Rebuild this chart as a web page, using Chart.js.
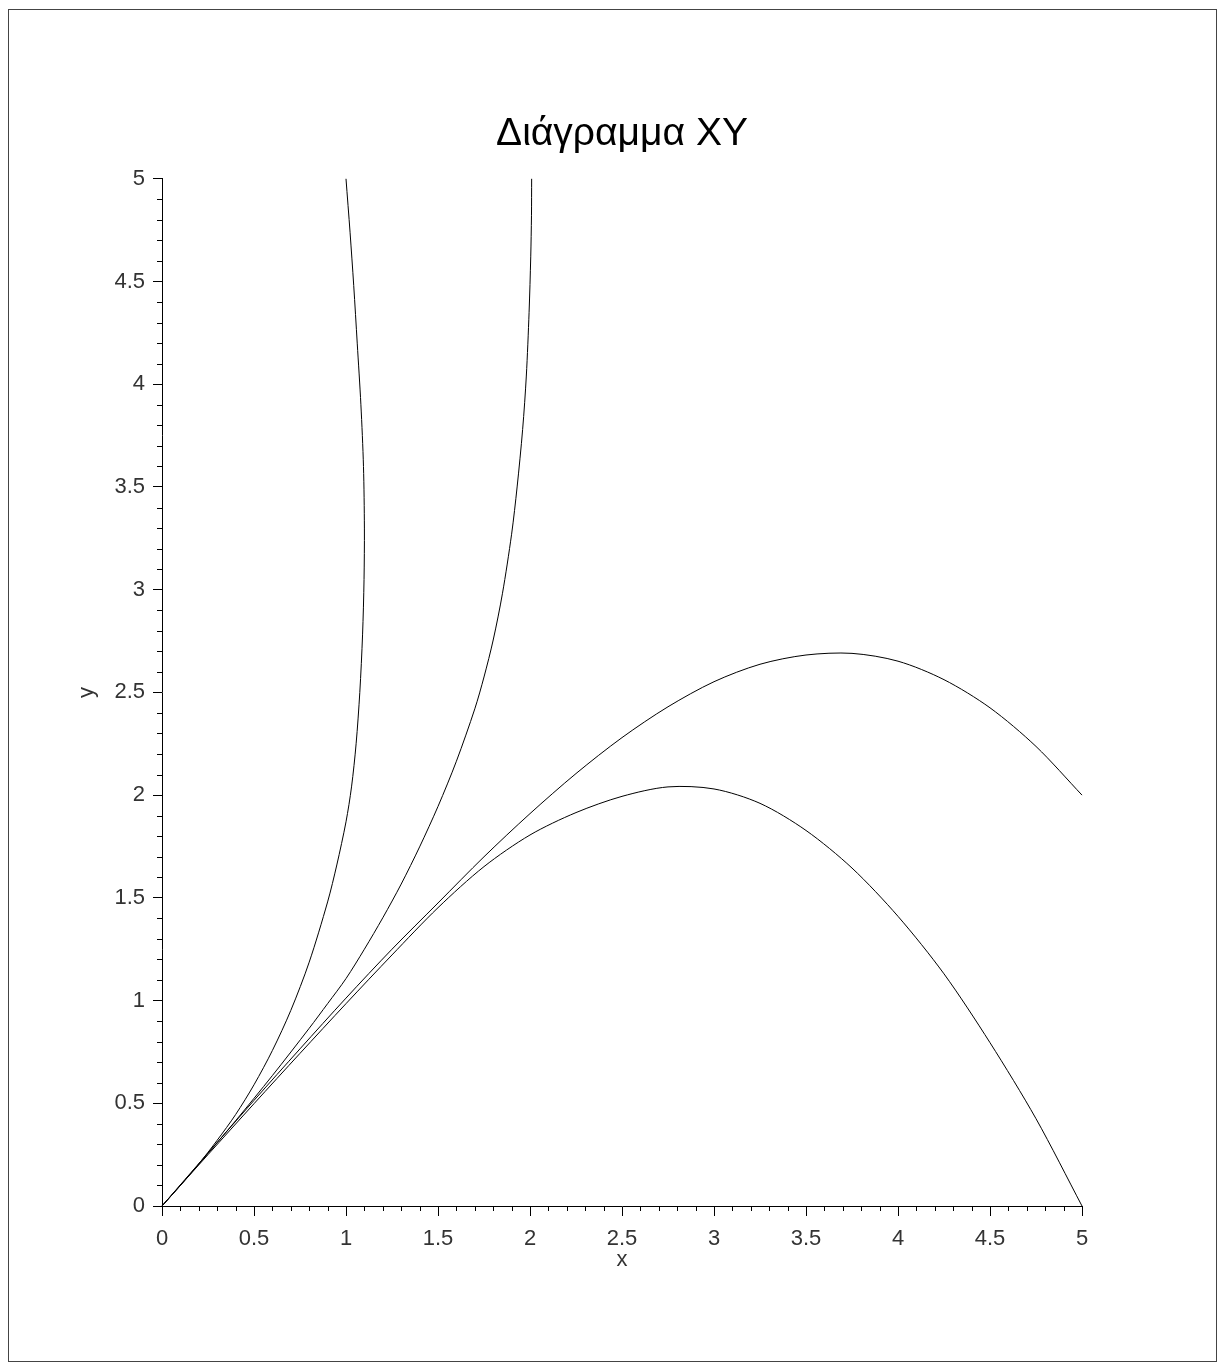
<!DOCTYPE html>
<html>
<head>
<meta charset="utf-8">
<title>Διάγραμμα XY</title>
<script src="https://cdn.jsdelivr.net/npm/chart.js@4.4.1/dist/chart.umd.min.js"></script>
<style>
  html, body { margin: 0; padding: 0; background: #fff; }
  #wrap { position: relative; width: 1226px; height: 1371px; }
  #frame {
    position: absolute; left: 8px; top: 9px; width: 1209px; height: 1353px;
    border: 1px solid #444; box-sizing: border-box;
  }
  #plot { position: absolute; left: 0; top: 0; }
</style>
</head>
<body>
<div id="wrap">
  <div id="frame"></div>
  <canvas id="plot" width="1226" height="1371"></canvas>
</div>
<script>
// curve values
const curve1X = [0, 0.1, 0.2, 0.3, 0.4, 0.5, 0.6, 0.7, 0.8, 0.9, 0.95, 1.0, 1.03, 1.055, 1.075, 1.09, 1.098, 1.1, 1.095, 1.081, 1.061, 1.042, 1.022, 1.0];
const curve1Y = [0, 0.1, 0.205, 0.32, 0.445, 0.59, 0.757, 0.952, 1.187, 1.48, 1.66, 1.87, 2.04, 2.25, 2.5, 2.78, 3.05, 3.3, 3.6, 3.9, 4.2, 4.48, 4.74, 5.0];

const curve2X = [0, 0.2, 0.4, 0.6, 0.8, 0.9, 1.0, 1.1, 1.2, 1.3, 1.4, 1.5, 1.6, 1.7, 1.75, 1.8, 1.85, 1.9, 1.93, 1.96, 1.98, 1.995, 2.004, 2.008, 2.009];
const curve2Y = [0, 0.204, 0.415, 0.635, 0.865, 0.985, 1.107, 1.25, 1.403, 1.567, 1.748, 1.945, 2.165, 2.42, 2.575, 2.755, 2.98, 3.27, 3.5, 3.78, 4.04, 4.35, 4.62, 4.82, 5.0];

const curve3X = [0, 0.25, 0.5, 0.75, 1.0, 1.25, 1.5, 1.75, 2.0, 2.25, 2.5, 2.75, 3.0, 3.25, 3.5, 3.75, 4.0, 4.25, 4.5, 4.75, 5.0];
const curve3Y = [0, 0.258, 0.514, 0.765, 1.012, 1.25, 1.475, 1.7, 1.91, 2.105, 2.28, 2.43, 2.552, 2.637, 2.682, 2.69, 2.652, 2.562, 2.425, 2.237, 2.0];

const curve4X = [0, 0.25, 0.5, 0.75, 1.0, 1.25, 1.5, 1.75, 2.0, 2.25, 2.5, 2.75, 3.0, 3.25, 3.5, 3.75, 4.0, 4.25, 4.5, 4.75, 5.0];
const curve4Y = [0, 0.25, 0.498, 0.743, 0.985, 1.222, 1.452, 1.652, 1.806, 1.915, 1.994, 2.04, 2.03, 1.96, 1.828, 1.645, 1.41, 1.13, 0.795, 0.425, 0.0];

const axisMin = 0;
const axisMax = 5;
const majorStep = 0.5;
const minorStep = 0.1;

const font = "'Liberation Sans', Arial, Helvetica, sans-serif";

function toPoints(xs, ys) {
    return xs.map((x, i) => ({ x: x, y: ys[i] }));
}

function lineSet(xs, ys) {
    return {
        data: toPoints(xs, ys),
        showLine: true,
        borderColor: '#000',
        borderWidth: 1,
        pointRadius: 0,
        tension: 0.3,
        fill: false,
        clip: false
    };
}

// 0, 0.5, 1, 1.5 ... without the trailing ".0"
function tickLabel(value) {
    return String(Math.round(value * 10) / 10);
}

// minor ticks (4 between every labelled tick), drawn through the scales
const minorTicks = {
    id: 'minorTicks',
    afterDraw(chart) {
        const ctx = chart.ctx;
        const xs = chart.scales.x;
        const ys = chart.scales.y;
        const n = Math.round((axisMax - axisMin) / minorStep);
        const every = Math.round(majorStep / minorStep);
        ctx.save();
        ctx.strokeStyle = '#000';
        ctx.lineWidth = 1;
        ctx.beginPath();
        for (let i = 0; i <= n; i++) {
            if (i % every === 0) continue;
            const v = axisMin + i * minorStep;
            const px = Math.round(xs.getPixelForValue(v)) + 0.5;
            ctx.moveTo(px, xs.top);
            ctx.lineTo(px, xs.top + 5);
            const py = Math.round(ys.getPixelForValue(v)) + 0.5;
            ctx.moveTo(ys.right, py);
            ctx.lineTo(ys.right - 5, py);
        }
        ctx.stroke();
        ctx.restore();
    }
};

document.addEventListener('DOMContentLoaded', function() {
    const ctx = document.getElementById('plot').getContext('2d');

    new Chart(ctx, {
        type: 'scatter',
        data: {
            datasets: [
                lineSet(curve1X, curve1Y),
                lineSet(curve2X, curve2Y),
                lineSet(curve3X, curve3Y),
                lineSet(curve4X, curve4Y)
            ]
        },
        options: {
            responsive: false,
            animation: false,
            events: [],
            layout: {
                padding: { left: 60, right: 42, top: 86, bottom: 60 }
            },
            plugins: {
                legend: { display: false },
                tooltip: { enabled: false },
                title: {
                    display: true,
                    text: 'Διάγραμμα XY',
                    color: '#000',
                    font: { family: font, size: 39, weight: 'normal' },
                    padding: { top: 25, bottom: 21 }
                }
            },
            scales: {
                x: {
                    type: 'linear',
                    min: axisMin,
                    max: axisMax,
                    afterFit: function(scale) { scale.height = 105; },
                    border: { display: true, color: '#000', width: 1 },
                    grid: {
                        drawOnChartArea: false,
                        drawTicks: true,
                        tickLength: 10,
                        tickColor: '#000'
                    },
                    ticks: {
                        stepSize: majorStep,
                        padding: 10,
                        maxRotation: 0,
                        color: '#333',
                        font: { family: font, size: 22 },
                        callback: tickLabel
                    },
                    title: {
                        display: true,
                        text: 'x',
                        color: '#333',
                        font: { family: font, size: 22 },
                        padding: { top: 0, bottom: 38 }
                    }
                },
                y: {
                    type: 'linear',
                    position: 'left',
                    min: axisMin,
                    max: axisMax,
                    afterFit: function(scale) { scale.width = 102; },
                    border: { display: true, color: '#000', width: 1 },
                    grid: {
                        drawOnChartArea: false,
                        drawTicks: true,
                        tickLength: 9,
                        tickColor: '#000'
                    },
                    ticks: {
                        stepSize: majorStep,
                        padding: 8,
                        color: '#333',
                        font: { family: font, size: 22 },
                        callback: tickLabel
                    },
                    title: {
                        display: true,
                        text: 'y',
                        color: '#333',
                        font: { family: font, size: 22 },
                        padding: { top: 14, bottom: 0 }
                    }
                },
                // empty right-hand margin so the title centres over the plot
                yRight: {
                    type: 'linear',
                    position: 'right',
                    min: axisMin,
                    max: axisMax,
                    afterFit: function(scale) { scale.width = 102; },
                    border: { display: false },
                    grid: { display: false },
                    ticks: { display: false }
                }
            }
        },
        plugins: [minorTicks]
    });
});
</script>
</body>
</html>
